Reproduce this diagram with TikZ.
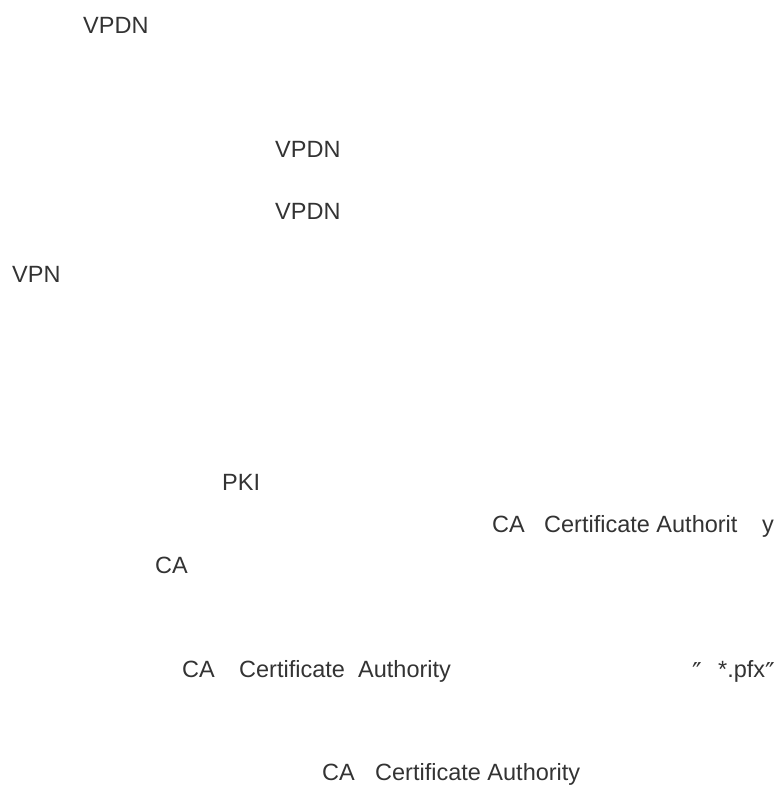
\documentclass[tikz,border=0pt]{standalone}
\usepackage{fontspec}
\setmainfont{Liberation Sans}
\newfontfamily\symfont{DejaVu Sans}
\usepackage{tikz}
\definecolor{inkgray}{HTML}{333333}
\tikzset{frag/.style={anchor=base west,inner sep=0pt,text=inkgray,font=\fontsize{23.5}{28}\selectfont},
  quot/.style={frag,font=\symfont\fontsize{26}{30}\selectfont}}

\begin{document}
\begin{tikzpicture}[x=1pt,y=-1pt]
\useasboundingbox (0,0) rectangle (779,787);
\node[frag] (vpdnA) at (83,33) {VPDN};
\node[frag] (vpdnB) at (275,157) {VPDN};
\node[frag] (vpdnC) at (275,219) {VPDN};
\node[frag] (vpn) at (12,282) {VPN};
\node[frag] (pki) at (222,490) {PKI};
\node[frag] (caA) at (492,532) {CA};
\node[frag] (certA) at (544,532) {Certificate Authorit};
\node[frag] (yA) at (762,532) {y};
\node[frag] (caB) at (155,573) {CA};
\node[frag] (caC) at (182,677) {CA};
\node[frag] (certC) at (239,677) {Certificate};
\node[frag] (authC) at (358,677) {Authority};
\node[quot] (qOpen) at (692,681) {″};
\node[frag] (pfx) at (718,677) {*.pfx};
\node[quot] (qClose) at (765,681) {″};
\node[frag] (caD) at (322,780) {CA};
\node[frag] (certD) at (375,780) {Certificate Authority};
\end{tikzpicture}
\end{document}
